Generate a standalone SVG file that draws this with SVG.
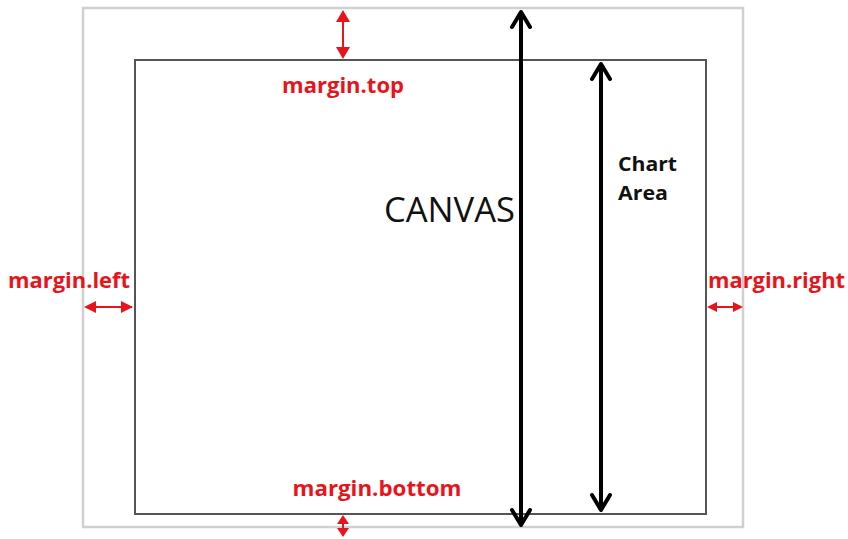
<svg xmlns="http://www.w3.org/2000/svg" width="848" height="539" viewBox="0 0 848 539">
<style>
.red{fill:#e8141b;font-family:"Open Sans","Liberation Sans",sans-serif;font-weight:bold;font-size:21px}
.rl{stroke:#e8141b;stroke-width:2;fill:none}
.bl{stroke:#000;stroke-width:4;fill:none}
.ch{stroke:#000;stroke-width:4;fill:none;stroke-linecap:round;stroke-linejoin:round}
.blk{font-family:"Open Sans","Liberation Sans",sans-serif;fill:#111}
</style>
<rect x="0" y="0" width="848" height="539" fill="#fff"/>
<g id="canvas-box"><rect x="83" y="8" width="660" height="519" fill="none" stroke="#d0d0d0" stroke-width="2.5"/></g>
<g id="chart-box"><rect x="135" y="60" width="571" height="454" fill="none" stroke="#555" stroke-width="2"/></g>
<g id="connectors">
<line class="rl" x1="343" y1="12" x2="343" y2="57"/>
<path d="M336,22 L343,10 L350,22 z M336,47 L343,59 L350,47 z" fill="#e8141b"/>
<line class="rl" x1="343" y1="518" x2="343" y2="534"/>
<path d="M337,524 L343,515 L349,524 z M337,528 L343,537 L349,528 z" fill="#e8141b"/>
<line class="rl" x1="86" y1="307" x2="132" y2="307"/>
<path d="M96,301 L84,307 L96,313 z M121,301 L133,307 L121,313 z" fill="#e8141b"/>
<line class="rl" x1="709" y1="307" x2="741" y2="307"/>
<path d="M717,302 L707,307 L717,312 z M733,302 L743,307 L733,312 z" fill="#e8141b"/>
<line class="bl" x1="521" y1="12" x2="521" y2="525"/>
<path class="ch" d="M512,27 L521,12 L530,27 M512,510 L521,525 L530,510"/>
<line class="bl" x1="601" y1="64" x2="601" y2="510"/>
<path class="ch" d="M592,79 L601,64 L610,79 M592,495 L601,510 L610,495"/>
</g>
<g id="labels">
<text class="red" x="343" y="93" text-anchor="middle" textLength="122" lengthAdjust="spacingAndGlyphs">margin.top</text>
<text class="red" x="377" y="496" text-anchor="middle" textLength="169" lengthAdjust="spacingAndGlyphs">margin.bottom</text>
<text class="red" x="8" y="288" textLength="122" lengthAdjust="spacingAndGlyphs">margin.left</text>
<text class="red" x="708" y="288" textLength="137" lengthAdjust="spacingAndGlyphs">margin.right</text>
<text class="blk" x="384" y="222" font-size="35" textLength="131" lengthAdjust="spacingAndGlyphs">CANVAS</text>
<text class="blk" x="618" y="171" font-weight="bold" font-size="20" textLength="59" lengthAdjust="spacingAndGlyphs">Chart</text>
<text class="blk" x="618" y="200" font-weight="bold" font-size="20" textLength="50" lengthAdjust="spacingAndGlyphs">Area</text>
</g>
</svg>
